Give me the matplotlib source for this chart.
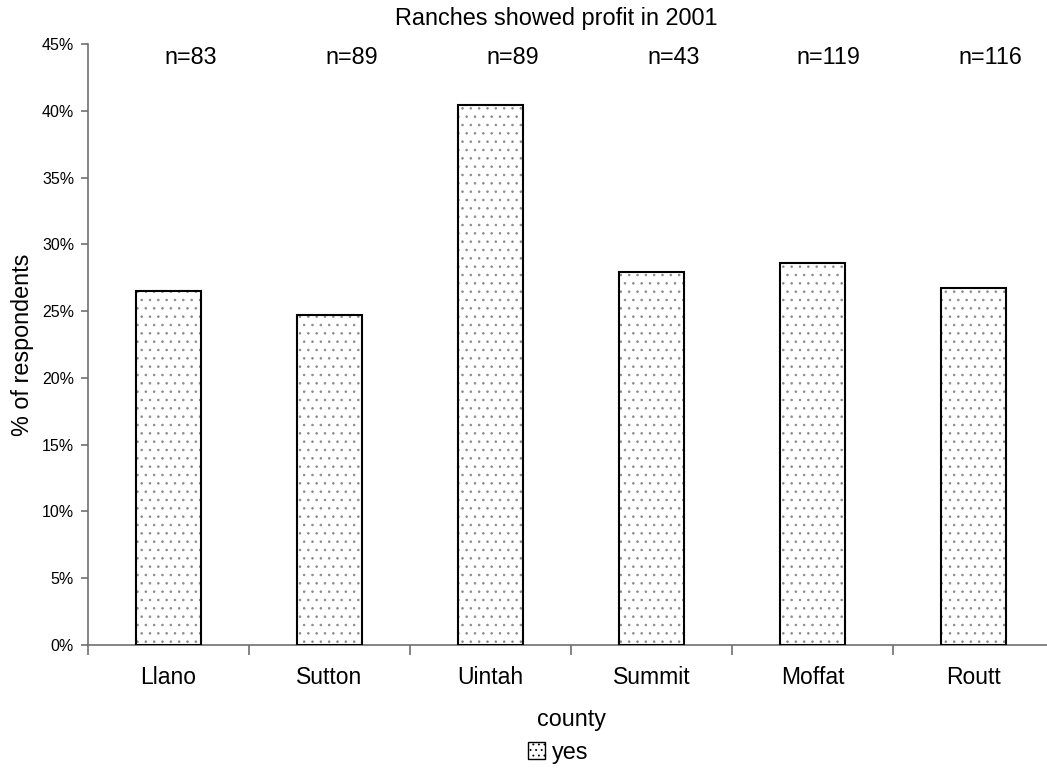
import matplotlib.pyplot as plt
from matplotlib.patches import Patch
import numpy as np

plt.rcParams['font.family'] = ['Liberation Sans', 'DejaVu Sans']
plt.rcParams['hatch.linewidth'] = 0.6

counties = ["Llano", "Sutton", "Uintah", "Summit", "Moffat", "Routt"]
pct_yes = [26.5, 24.7, 40.4, 27.9, 28.6, 26.7]
n_resp = [83, 89, 89, 43, 119, 116]

W, H = 1047, 774
fig = plt.figure(figsize=(W / 100, H / 100), dpi=100)
ax = fig.add_axes([88 / W, (H - 645) / H, 966 / W, 601 / H])

x = np.arange(len(counties))
# hatched fill first (gray dots), then the black outline on top
ax.bar(x, pct_yes, width=0.4, color='white', edgecolor='#8a8a8a',
       linewidth=0, hatch='..', zorder=2)
ax.bar(x, pct_yes, width=0.4, fill=False, edgecolor='black',
       linewidth=1.5, zorder=3)

ax.set_xlim(-0.5, len(counties) - 0.5)
ax.set_ylim(0, 45)
ax.set_yticks(np.arange(0, 46, 5))
ax.set_yticklabels([f"{v}%" for v in range(0, 46, 5)], fontsize=11.5)
ax.set_xticks(x)
ax.set_xticklabels(counties, fontsize=16.5)
ax.set_xticks(np.arange(-0.5, len(counties), 1), minor=True)
ax.tick_params(axis='x', which='major', length=0, pad=15)
ax.tick_params(axis='x', which='minor', length=7, width=1.2, color='#707070')
ax.tick_params(axis='y', length=5, width=1.2, color='#707070', pad=5)

for s in ['top', 'right']:
    ax.spines[s].set_visible(False)
for s in ['left', 'bottom']:
    ax.spines[s].set_color('#707070')
    ax.spines[s].set_linewidth(1.2)

# n labels sit right-aligned a bit right of each category centre
for xi, n in zip(x, n_resp):
    ax.text(xi + 0.3, 44.0, f"n={n}", ha='right', va='center', fontsize=16.8)

ax.set_ylabel("% of respondents", fontsize=16.8, labelpad=6)
ax.set_xlabel("county", fontsize=16.8, labelpad=14)
fig.text(556 / W, 1 - 19 / H, "Ranches showed profit in 2001",
         ha='center', va='center', fontsize=16.9)

handle = Patch(facecolor='white', edgecolor='black', hatch='...', linewidth=1)
fig.legend([handle], ["yes"], loc='center', bbox_to_anchor=(558 / W, 1 - 752 / H),
           frameon=False, fontsize=16.8, handlelength=0.75, handleheight=0.75,
           handletextpad=0.3)

fig.savefig("out.png", dpi=100)
